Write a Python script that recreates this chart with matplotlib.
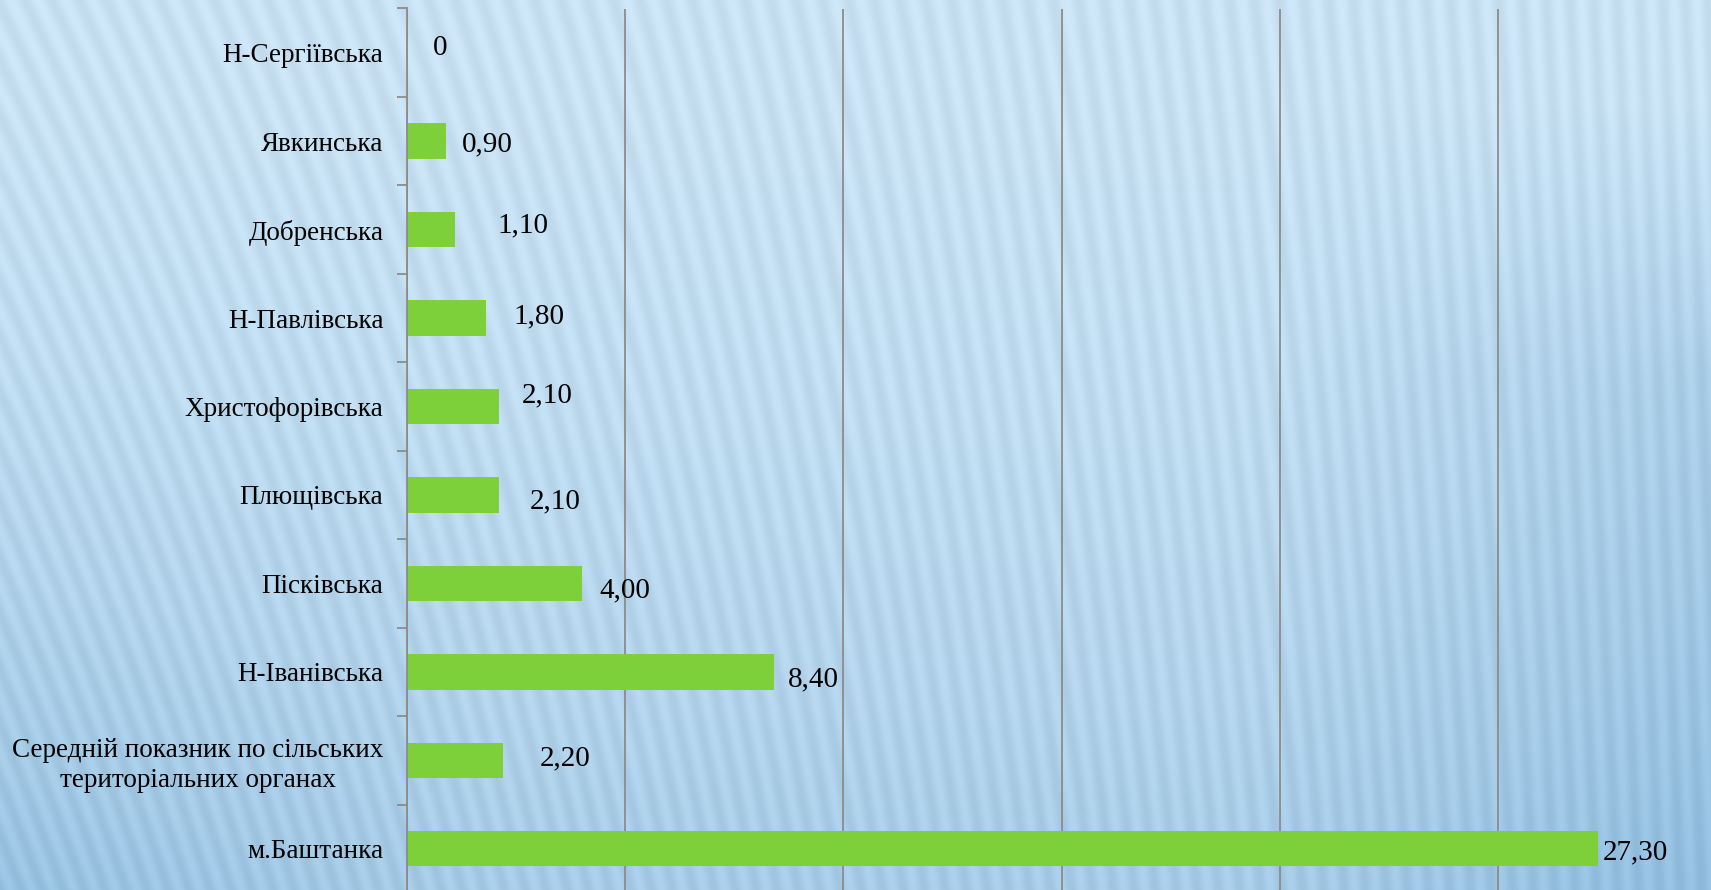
import numpy as np
import matplotlib.pyplot as plt

# Data (top to bottom as drawn)
categories = [
    "Н-Сергіївська",
    "Явкинська",
    "Добренська",
    "Н-Павлівська",
    "Христофорівська",
    "Плющівська",
    "Пісківська",
    "Н-Іванівська",
    "Середній показник по сільських\nтериторіальних органах",
    "м.Баштанка",
]
values = [0, 0.90, 1.10, 1.80, 2.10, 2.10, 4.00, 8.40, 2.20, 27.30]
value_labels = ["0", "0,90", "1,10", "1,80", "2,10", "2,10", "4,00", "8,40", "2,20", "27,30"]

# manual label offsets (pixels) from the bar end, as placed in the original
label_dx = [33, 41, 68, 53, 49, 57, 43, 40, 62, 37]
label_dy = [5, -3, 4, 2, 11, -6, -7, -8, 2, -4]

W, H = 1711, 890
fig = plt.figure(figsize=(W / 100, H / 100), dpi=100)

# striped light-blue background
yy, xx = np.mgrid[0:H, 0:W].astype(float)
slope = 0.34 * (1 - xx / W) ** 1.3 + 0.04
u = xx + (H - yy) * slope
stripes = 0.5 + 0.5 * np.cos(2 * np.pi * u / 21.0)
t = 0.12 + 0.55 * (yy / H) ** 1.6
t += 0.35 * np.clip((xx / W - 0.72) / 0.28, 0, 1) * np.clip((yy / H - 0.12) / 0.3, 0, 1)
t += 0.25 * np.clip(1 - xx / 500, 0, 1) * (yy / H) ** 2
t = np.clip(t, 0, 1)
light = np.array([0.84, 0.93, 0.99])
dark = np.array([0.60, 0.77, 0.90])
base = light[None, None, :] * (1 - t[..., None]) + dark[None, None, :] * t[..., None]
img = base - 0.05 * stripes[..., None]
bg = fig.add_axes([0, 0, 1, 1])
bg.imshow(np.clip(img, 0, 1), aspect="auto", extent=[0, 1, 0, 1])
bg.axis("off")

left = 407 / W
right = 407 + 30 * 43.64
bottom = -3 / H
top = 8.5 / H
ax = fig.add_axes([left, bottom, (right - 407) / W, 1 - top - bottom])
ax.patch.set_alpha(0)

y = np.arange(len(categories))
ax.barh(y, values, height=0.4, color="#7ED03A", zorder=3)
ax.set_ylim(len(categories) - 0.5, -0.5)
ax.set_xlim(0, 30)

ax.set_xticks([0, 5, 10, 15, 20, 25, 30])
ax.xaxis.grid(True, color="#8c8c8c", linewidth=1.3, zorder=1)
ax.tick_params(axis="x", length=0, labelbottom=False)

ax.set_yticks(np.arange(len(categories) + 1) - 0.5, minor=True)
ax.set_yticks(y)
ax.set_yticklabels(categories, fontsize=19.5, family="Liberation Serif",
                   multialignment="center", linespacing=1.25)
ax.tick_params(axis="y", which="major", length=0, pad=17)
ax.tick_params(axis="y", which="minor", length=7, width=1.3, color="#8c8c8c")

for s in ["top", "right", "bottom"]:
    ax.spines[s].set_visible(False)
ax.spines["left"].set_color("#8c8c8c")
ax.spines["left"].set_linewidth(1.3)
ax.spines["left"].set_zorder(4)

for i, v in enumerate(values):
    ax.annotate(value_labels[i], xy=(v, i), xytext=(label_dx[i], label_dy[i]),
                textcoords="offset pixels", ha="center", va="center",
                fontsize=21, family="Liberation Serif", color="black", zorder=5)

fig.savefig("out.png", dpi=100)
